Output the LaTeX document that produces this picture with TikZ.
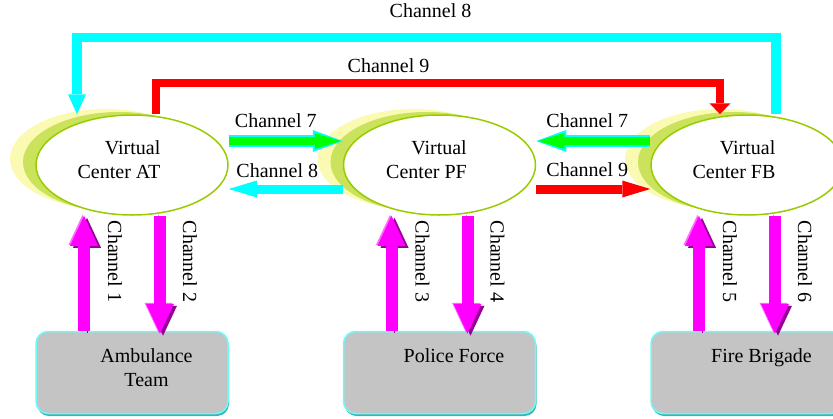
\documentclass[tikz,border=0pt]{standalone}
\usepackage{fontspec}
\setmainfont{Liberation Serif}
\usetikzlibrary{arrows.meta,positioning,shapes.geometric,shadows}
\definecolor{rim}{RGB}{153,204,0}
\definecolor{haze}{RGB}{250,250,178}
\definecolor{moss}{RGB}{202,226,92}
\definecolor{slab}{RGB}{196,196,196}
\definecolor{slabedge}{RGB}{110,250,250}
\definecolor{slabdark}{RGB}{60,180,180}
\definecolor{fuchsia}{RGB}{255,0,255}
\definecolor{magdark}{RGB}{150,0,150}
\definecolor{maglight}{RGB}{255,110,255}
\definecolor{aquab}{RGB}{0,255,255}
\definecolor{leaf}{RGB}{0,255,0}
\definecolor{scarlet}{RGB}{255,0,0}
\tikzstyle{vcenter}=[ellipse,draw=rim,line width=1.5pt,fill=white,minimum width=192pt,minimum height=100pt,
general shadow={shadow xshift=-26pt,shadow yshift=6pt,fill=haze,draw=none},
general shadow={shadow xshift=-13pt,shadow yshift=3pt,fill=moss,draw=none}]
\tikzstyle{unit}=[rectangle,rounded corners=12pt,draw=slabedge,line width=1.5pt,fill=slab,
minimum width=192pt,minimum height=82pt,
general shadow={shadow xshift=1pt,shadow yshift=-2.5pt,fill=slabdark,draw=none}]
\tikzstyle{chan}=[inner sep=0pt,outer sep=0pt]
\tikzstyle{chanv}=[inner sep=0pt,outer sep=0pt,rotate=-90,anchor=west]
\tikzstyle{pipe}=[draw=fuchsia,line width=12pt,-{Triangle[width=28pt,length=30pt,line width=0pt]},
preaction={draw=magdark,transform canvas={shift={(3pt,-2pt)}}},
preaction={draw=maglight,transform canvas={shift={(-1.5pt,1pt)}}}]
\tikzstyle{lime}=[draw=leaf,line width=8pt,-{Triangle[width=16pt,length=26pt,line width=0pt]},shorten >=2pt,
preaction={draw=aquab,line width=12pt,shorten >=0pt,-{Triangle[width=22pt,length=30pt,line width=0pt]}}]
\tikzstyle{aqua}=[draw=aquab,line width=9pt,-{Triangle[width=17pt,length=28pt,line width=0pt]}]
\tikzstyle{ruby}=[draw=scarlet,line width=9pt,-{Triangle[width=17pt,length=28pt,line width=0pt]}]
\tikzstyle{aquaroof}=[draw=aquab,line width=9.5pt,-{Triangle[width=18pt,length=20pt,line width=0pt]}]
\tikzstyle{rubyroof}=[draw=scarlet,line width=8pt,-{Triangle[width=21pt,length=11pt,line width=0pt]}]

\begin{document}
\begin{tikzpicture}[x=1pt,y=-1pt,font=\fontsize{20}{24}\selectfont]
\useasboundingbox (0,0) rectangle (833,418);

% Virtual centers
\node[vcenter,label={[align=right,xshift=-13pt,yshift=5pt]center:Virtual\\Center AT}] (at) at (132,165) {};
\node[vcenter,right=114pt of at,label={[align=right,xshift=-13pt,yshift=5pt]center:Virtual\\Center PF}] (pf) {};
\node[vcenter,right=114pt of pf,label={[align=right,xshift=-13pt,yshift=5pt]center:Virtual\\Center FB}] (fb) {};

% Agents
\node[unit,below=115pt of at,label={[align=center,anchor=north,xshift=14.5pt,yshift=-18pt,inner sep=0pt]north:Ambulance\\Team}] (amb) {};
\node[unit,below=115pt of pf,label={[anchor=north,xshift=14.5pt,yshift=-18pt,inner sep=0pt]north:Police Force}] (pol) {};
\node[unit,below=115pt of fb,label={[anchor=north,xshift=14.5pt,yshift=-18pt,inner sep=0pt]north:Fire Brigade}] (fire) {};

% Agent <-> center channels
\draw[pipe] ([xshift=-48pt]amb.north) -- ([xshift=-48pt]at.south);
\draw[pipe] ([xshift=28pt]at.south) -- ([xshift=28pt,yshift=-3pt]amb.north);
\draw[pipe] ([xshift=-48pt]pol.north) -- ([xshift=-48pt]pf.south);
\draw[pipe] ([xshift=28pt]pf.south) -- ([xshift=28pt,yshift=-3pt]pol.north);
\draw[pipe] ([xshift=-48pt]fire.north) -- ([xshift=-48pt]fb.south);
\draw[pipe] ([xshift=28pt]fb.south) -- ([xshift=28pt,yshift=-3pt]fire.north);

\node[chanv] (c1) at ([xshift=-17pt,yshift=-5pt]at.south) {Channel 1};
\node[chanv] (c2) at ([xshift=58pt,yshift=-5pt]at.south) {Channel 2};
\node[chanv] (c3) at ([xshift=-17pt,yshift=-5pt]pf.south) {Channel 3};
\node[chanv] (c4) at ([xshift=58pt,yshift=-5pt]pf.south) {Channel 4};
\node[chanv] (c5) at ([xshift=-17pt,yshift=-5pt]fb.south) {Channel 5};
\node[chanv] (c6) at ([xshift=58pt,yshift=-5pt]fb.south) {Channel 6};

% Center <-> center channels
\draw[lime] ([yshift=24pt]at.east) -- node[chan,above=13pt,xshift=-10pt] {Channel 7} ([yshift=24pt]pf.west);
\draw[aqua] ([yshift=-24pt]pf.west) -- node[chan,above=11pt,xshift=-8.5pt] {Channel 8} ([yshift=-24pt]at.east);
\draw[lime] ([yshift=24pt]fb.west) -- node[chan,above=13pt,xshift=-6pt] {Channel 7} ([yshift=24pt]pf.east);
\draw[ruby] ([yshift=-24pt]pf.east) -- node[chan,above=12pt,xshift=-6pt] {Channel 9} ([yshift=-24pt]fb.west);

% Long channels over the top
\coordinate (sky8) at (0,37.5);
\coordinate (sky9) at (0,83);
\coordinate (fb8) at ([xshift=29pt]fb.north);
\coordinate (at8) at ([xshift=-55pt]at.north);
\coordinate (at9) at ([xshift=24pt]at.north);
\coordinate (fb9) at ([xshift=-27pt]fb.north);
\draw[aquaroof] (fb8) -- (fb8 |- sky8) -- node[chan,above=20pt,xshift=4pt] {Channel 8} (at8 |- sky8) -- (at8);
\draw[rubyroof] (at9) -- (at9 |- sky9) -- node[chan,above=10pt,xshift=-49.5pt] {Channel 9} (fb9 |- sky9) -- (fb9);

\end{tikzpicture}
\end{document}
